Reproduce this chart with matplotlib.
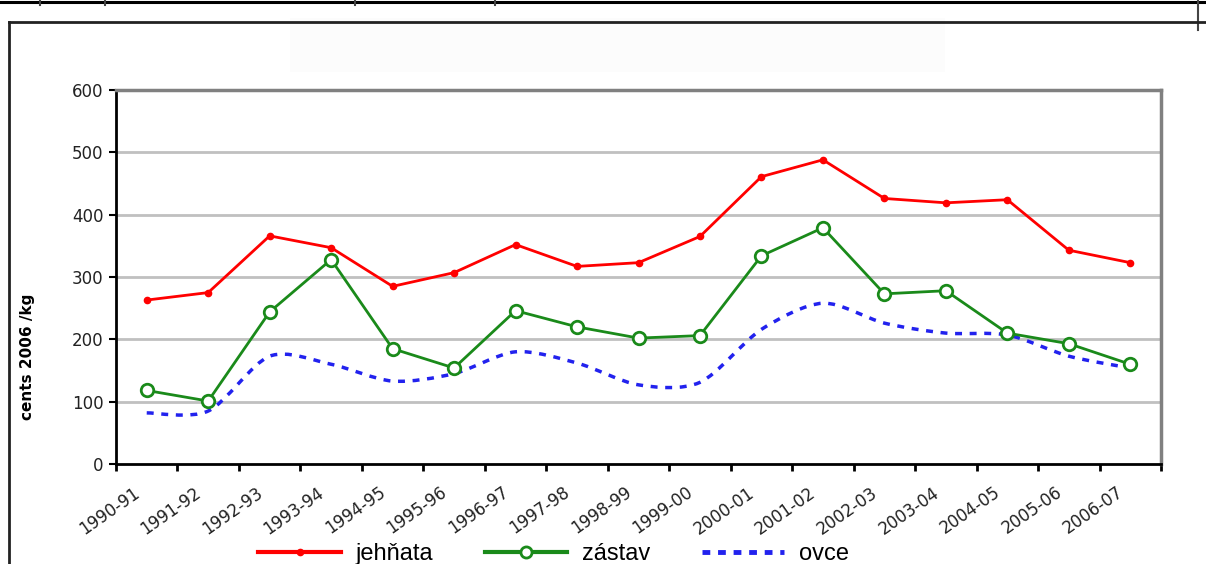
import matplotlib
matplotlib.use('Agg')
import matplotlib.pyplot as plt
import matplotlib.transforms as mtransforms
from matplotlib.path import Path
from matplotlib.patches import PathPatch, Rectangle
from matplotlib.lines import Line2D
import numpy as np

seasons = ['1990-91', '1991-92', '1992-93', '1993-94', '1994-95', '1995-96',
           '1996-97', '1997-98', '1998-99', '1999-00', '2000-01', '2001-02',
           '2002-03', '2003-04', '2004-05', '2005-06', '2006-07']
jehnata = [263, 275, 366, 347, 285, 307, 352, 317, 323, 365, 461, 488, 426, 419, 424, 343, 323]
zastav = [118, 101, 244, 328, 185, 154, 246, 220, 202, 206, 334, 379, 273, 278, 210, 193, 160]
ovce = [82, 85, 173, 160, 133, 145, 180, 162, 127, 131, 216, 258, 226, 210, 207, 173, 154]
y_ticks = [0, 100, 200, 300, 400, 500, 600]

fig = plt.figure(figsize=(12.06, 5.64), dpi=100)
ax = fig.add_axes([116/1206, 1-464/564, 1045/1206, 374/564])

x = np.arange(len(seasons))

# grid
for v in y_ticks[1:-1]:
    ax.axhline(v, color='#c0c0c0', lw=2, zorder=1)

ax.plot(x, jehnata, color='#ff0000', lw=2, marker='o', ms=4.5, zorder=4)
ax.plot(x, zastav, color='#1a8a1a', lw=2, marker='o', ms=9, mfc='white',
        mec='#1a8a1a', mew=2, zorder=4)

# smoothed dashed line like Excel's "smoothed line"
pts = np.column_stack([x, ovce]).astype(float)
verts = [tuple(pts[0])]
codes = [Path.MOVETO]
n = len(pts)
for i in range(n - 1):
    p0 = pts[max(i - 1, 0)]
    p1 = pts[i]
    p2 = pts[i + 1]
    p3 = pts[min(i + 2, n - 1)]
    c1 = p1 + (p2 - p0) / 7
    c2 = p2 - (p3 - p1) / 7
    verts += [tuple(c1), tuple(c2), tuple(p2)]
    codes += [Path.CURVE4] * 3
ovce_patch = PathPatch(Path(verts, codes), fill=False, edgecolor='#2222ee',
                       lw=2.5, linestyle=(0, (2, 2.2)), zorder=3)
ax.add_patch(ovce_patch)

ax.set_xlim(-0.5, len(seasons) - 0.5)
ax.set_ylim(0, 600)
ax.set_yticks(y_ticks)
ax.tick_params(axis='y', direction='out', length=5, width=1.5, pad=4,
               labelsize=12, labelcolor='#222222')

ax.set_xticks(x)
ax.set_xticklabels(seasons, rotation=35, ha='right', va='top',
                   rotation_mode='anchor', fontsize=12, color='#222222')
ax.tick_params(axis='x', which='major', length=0, pad=14)
ax.set_xticks(np.arange(len(seasons) + 1) - 0.5, minor=True)
ax.tick_params(axis='x', which='minor', direction='out', length=5, width=2)
shift = mtransforms.ScaledTranslation(-14/100, 0, fig.dpi_scale_trans)
for lab in ax.get_xticklabels():
    lab.set_transform(lab.get_transform() + shift)

for s in ['left', 'bottom']:
    ax.spines[s].set_color('black')
    ax.spines[s].set_linewidth(2)
for s in ['top', 'right']:
    ax.spines[s].set_color('#808080')
    ax.spines[s].set_linewidth(2.5)

ax.set_ylabel('cents 2006 /kg', fontsize=11, fontweight='bold')
ax.yaxis.set_label_coords(-0.0775, 0.286)

# legend
handles = [
    Line2D([], [], color='#ff0000', lw=3, marker='o', ms=4.5),
    Line2D([], [], color='#1a8a1a', lw=3, marker='o', ms=8, mfc='white', mew=2),
    Line2D([], [], color='#2222ee', lw=3.5, linestyle=(0, (1.6, 1.6))),
]
fig.legend(handles, ['jehňata', 'zástav', 'ovce'], ncol=3, frameon=False,
           loc='center', bbox_to_anchor=(0.459, 0.018), handlelength=3.5,
           handletextpad=0.6, columnspacing=2.2,
           prop={'family': 'Liberation Sans', 'size': 17})

# outer frame and page remnants
fig.add_artist(Rectangle((290/1206, 1-72/564), 655/1206, 54/564,
                         transform=fig.transFigure, facecolor='#fcfcfc',
                         edgecolor='none', zorder=0))
fig.add_artist(Line2D([0, 1], [1-1.5/564, 1-1.5/564], transform=fig.transFigure,
                      color='black', lw=2.2))
for px in [40, 105, 355, 495]:
    fig.add_artist(Line2D([px/1206, px/1206], [1, 1-5/564], transform=fig.transFigure,
                          color='#444444', lw=1.5))
fig.add_artist(Line2D([1198/1206, 1198/1206], [1, 1-30/564], transform=fig.transFigure,
                      color='#444444', lw=1.5))
fig.add_artist(Line2D([9/1206, 9/1206], [0, 1-22/564], transform=fig.transFigure,
                      color='#222222', lw=2))
fig.add_artist(Line2D([9/1206, 1], [1-22/564, 1-22/564], transform=fig.transFigure,
                      color='#222222', lw=2))

fig.savefig('out.png', dpi=100)
